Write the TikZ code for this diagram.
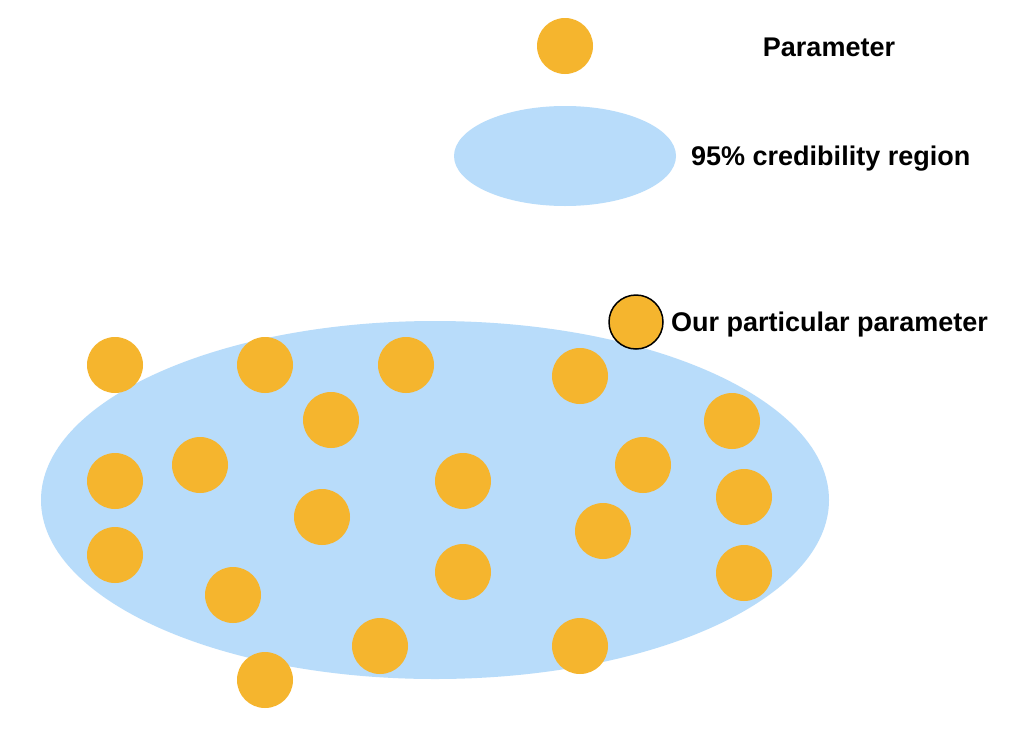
\documentclass[tikz,border=0pt]{standalone}
\usepackage{fontspec}
\setmainfont{Liberation Sans}
\definecolor{param}{HTML}{F5B52E}
\definecolor{region}{HTML}{B8DCFA}
\begin{document}
\begin{tikzpicture}[x=1pt,y=-1pt,
  dot/.style={circle,fill=param,minimum size=56pt,inner sep=0pt},
  lbl/.style={font=\fontsize{27}{32}\selectfont\bfseries,inner sep=0pt}]
\useasboundingbox[fill=white] (0,0) rectangle (1011,739);
% legend
\node[dot] (legp) at (565,46) {};
\node[lbl] (legpt) at (829,47) {Parameter};
\fill[region] (565,156) ellipse [x radius=111, y radius=50];
\node[lbl,anchor=west] (legrt) at (691,159) {95\% credibility region};
% big region
\fill[region] (435,500) ellipse [x radius=394, y radius=179];
% dots
\foreach \x/\y [count=\i] in {115/365,265/365,406/365,580/376,331/420,732/421,115/481,200/465,463/481,643/465,744/497,322/517,603/531,115/555,463/572,744/573,233/595,380/646,580/646,265/680}
  \node[dot] (p\i) at (\x,\y) {};
% particular
\node[dot,draw=black,line width=1.5pt,minimum size=54pt] (our) at (636,322) {};
\node[lbl,anchor=west] (ourt) at (671,325) {Our particular parameter};
\end{tikzpicture}
\end{document}
